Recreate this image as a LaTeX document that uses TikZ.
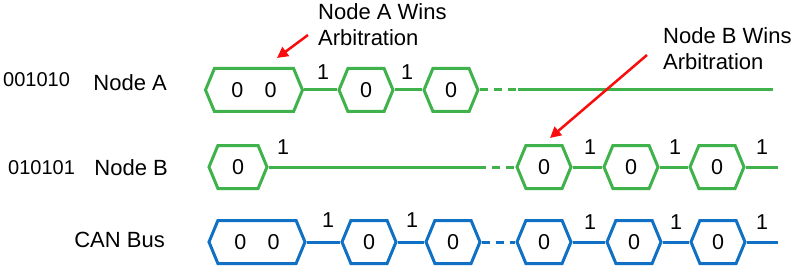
\documentclass[tikz,border=0pt]{standalone}
\usepackage{fontspec}
\setmainfont{Liberation Sans}
\usetikzlibrary{shapes.symbols,arrows.meta}
\definecolor{busgreen}{RGB}{64,178,76}
\definecolor{busblue}{RGB}{16,112,196}
\definecolor{markred}{RGB}{250,12,12}

\begin{document}
\begin{tikzpicture}[x=1pt,y=-1pt,
  lbl/.style={font=\fontsize{22}{26}\selectfont,inner sep=0pt,align=left},
  bits/.style={font=\fontsize{20}{24}\selectfont,inner sep=0pt},
  ones/.style={font=\fontsize{21.5}{24}\selectfont,inner sep=0pt},
  bit/.style={signal,signal to=east and west,signal pointer angle=135,line width=3pt,
    inner sep=0pt,minimum height=43pt,minimum width=54pt,font=\fontsize{21.5}{25}\selectfont},
  gbit/.style={bit,draw=busgreen},
  bbit/.style={bit,draw=busblue},
  wire/.style={line width=3pt},
  gap/.style={wire,dash pattern=on 8pt off 6pt},
  win/.style={markred,line width=2.5pt,-{Triangle[length=11pt,width=11pt]}}]
\useasboundingbox (0,0) rectangle (796,270);

% row labels
\node[bits,anchor=west] (bitsA) at (3,80) {001010};
\node[lbl,anchor=east] (nameA) at (167,83) {Node A};
\node[bits,anchor=west] (bitsB) at (8,168) {010101};
\node[lbl,anchor=east] (nameB) at (168,168) {Node B};
\node[lbl,anchor=east] (nameC) at (165,240) {CAN Bus};

% Node A
\node[gbit,minimum width=97pt] (a1) at (254,90) {0\quad 0};
\node[gbit] (a2) at (366,90) {0};
\node[gbit] (a3) at (451,90) {0};
\coordinate (aj) at (518,90);
\coordinate (aend) at (773,90);
\draw[wire,busgreen] (a1.east) -- (a2.west) (a2.east) -- (a3.west);
\draw[gap,busgreen] (a3.east) -- (aj);
\draw[wire,busgreen] (aj) -- (aend);

% Node B
\node[gbit,minimum width=58pt] (b1) at (238,167) {0};
\coordinate (bj) at (478,167);
\node[gbit] (b2) at (544,167) {0};
\node[gbit] (b3) at (631,167) {0};
\node[gbit] (b4) at (717,167) {0};
\coordinate (bend) at (778,167);
\draw[wire,busgreen] (b1.east) -- (bj);
\draw[gap,busgreen] (bj) -- (b2.west);
\draw[wire,busgreen] (b2.east) -- (b3.west) (b3.east) -- (b4.west) (b4.east) -- (bend);

% CAN bus
\node[bbit,minimum width=96pt] (c1) at (257,242) {0\quad 0};
\node[bbit] (c2) at (369,242) {0};
\node[bbit] (c3) at (453,242) {0};
\node[bbit] (c4) at (544,242) {0};
\node[bbit] (c5) at (634,242) {0};
\node[bbit] (c6) at (718,242) {0};
\coordinate (cend) at (778,242);
\draw[wire,busblue] (c1.east) -- (c2.west) (c2.east) -- (c3.west);
\draw[gap,busblue] (c3.east) -- (c4.west);
\draw[wire,busblue] (c4.east) -- (c5.west) (c5.east) -- (c6.west) (c6.east) -- (cend);

% recessive bits
\foreach \x/\y [count=\i] in {323/72,407/72,283/147,590/147,675/147,762/147,
    328/220,412/220,590/222,676/222,762/222}
  \node[ones] (one\i) at (\x,\y) {1};

% arbitration marks
\node[lbl,anchor=north west] (winA) at (318,3) {Node A Wins\\Arbitration};
\node[lbl,anchor=north west] (winB) at (663,27) {Node B Wins\\Arbitration};
\coordinate (fromA) at (308,35);
\coordinate (tipA) at (277,58);
\coordinate (fromB) at (647,55);
\coordinate (tipB) at (550,138);
\draw[win] (fromA) -- (tipA);
\draw[win] (fromB) -- (tipB);
\end{tikzpicture}
\end{document}
